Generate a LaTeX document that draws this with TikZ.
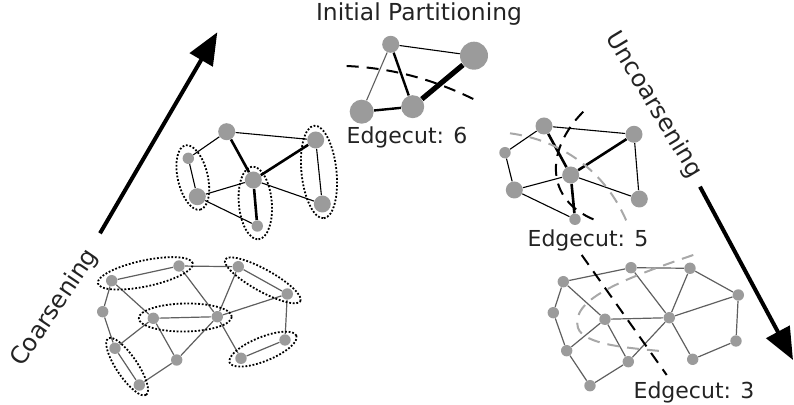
\documentclass[tikz,border=0pt]{standalone}
\usepackage{fontspec}
\setmainfont{DejaVu Sans}
\usetikzlibrary{arrows.meta,calc,shapes.geometric}
\definecolor{vgray}{RGB}{155,155,155}
\definecolor{cutgray}{RGB}{168,168,168}
\definecolor{edgegray}{RGB}{95,95,95}
\definecolor{txt}{RGB}{35,35,35}

\begin{document}
\begin{tikzpicture}[x=0.5pt,y=-0.5pt,>=Stealth,
		vx/.style={circle,fill=vgray,inner sep=0pt,minimum size=#1},
		vx/.default=5.7pt,
		ed/.style={draw=edgegray,line width=0.6pt},
		fine/.style={draw=black,line width=0.55pt},
		heavy/.style={draw=black,line width=1.3pt},
		grp/.style={ellipse,draw,dash pattern=on 0.9pt off 0.9pt,line width=0.9pt,inner sep=0pt},
		cut/.style={line width=1pt,dash pattern=on 6pt off 4pt},
		lbl/.style={text=txt,font=\fontsize{11}{13}\selectfont},
		big arrow/.style={line width=2pt,-{Triangle[length=16pt,width=13pt]}}]
		\useasboundingbox (0,0) rectangle (794,405);
		% finest graph (bottom left)
		\node[vx] (a1)  at (111.7,280.7) {};
		\node[vx] (a2)  at (179,266) {};
		\node[vx] (a3)  at (238.3,266.7) {};
		\node[vx] (a4)  at (287.3,294) {};
		\node[vx] (a5)  at (102.7,311.7) {};
		\node[vx] (a6)  at (153.3,318.3) {};
		\node[vx] (a7)  at (217.3,316.7) {};
		\node[vx] (a8)  at (285,340) {};
		\node[vx] (a9)  at (115,348.3) {};
		\node[vx] (a10) at (176.7,360) {};
		\node[vx] (a11) at (241,358.3) {};
		\node[vx] (a12) at (139.3,385) {};
		\draw[ed] (a1)--(a2) (a2)--(a3) (a3)--(a4) (a1)--(a5) (a1)--(a6) (a2)--(a7)
			(a3)--(a7) (a4)--(a7) (a4)--(a8) (a6)--(a7) (a5)--(a9) (a6)--(a9)
			(a6)--(a10) (a7)--(a10) (a7)--(a11) (a9)--(a12) (a10)--(a12) (a11)--(a8);
		% matchings
		\node[grp,minimum width=48.5pt,minimum height=13pt,rotate=12]  (m1) at ($(a1)!0.5!(a2)$) {};
		\node[grp,minimum width=43pt,minimum height=11pt,rotate=-29]   (m2) at ($(a3)!0.5!(a4)$) {};
		\node[grp,minimum width=46.5pt,minimum height=14pt,rotate=1]   (m3) at ($(a6)!0.5!(a7)$) {};
		\node[grp,minimum width=34pt,minimum height=10.5pt,rotate=-56] (m4) at ($(a9)!0.5!(a12)$) {};
		\node[grp,minimum width=36pt,minimum height=12pt,rotate=22]    (m5) at ($(a11)!0.5!(a8)$) {};
		% coarser graph (middle left)
		\node[vx=8.5pt] (b1) at (226.7,131.7) {};
		\node[vx=8.5pt] (b2) at (315.7,140) {};
		\node[vx]       (b3) at (188.3,158.3) {};
		\node[vx=8.5pt] (b4) at (253.3,180) {};
		\node[vx=8.5pt] (b5) at (197.3,196.7) {};
		\node[vx=8.5pt] (b6) at (322.3,204) {};
		\node[vx]       (b7) at (257.3,226) {};
		\draw[fine] (b1)--(b2) (b1)--(b3) (b2)--(b6) (b3)--(b5) (b5)--(b4) (b5)--(b7) (b4)--(b6);
		\draw[heavy] (b1)--(b4) (b2)--(b4) (b4)--(b7);
		\node[grp,minimum width=33pt,minimum height=15pt,rotate=-77]   (n1) at ($(b3)!0.5!(b5)$) {};
		\node[grp,minimum width=36.5pt,minimum height=16.5pt,rotate=-85] (n2) at ($(b4)!0.5!(b7)$) {};
		\node[grp,minimum width=46.5pt,minimum height=17.5pt,rotate=-84] (n3) at ($(b2)!0.5!(b6)$) {};
		% coarsest graph (top)
		\node[vx=8.5pt] (c1) at (390.7,44.3) {};
		\node[vx=14pt]  (c2) at (474,55.7) {};
		\node[vx=12pt]  (c3) at (361.7,111.7) {};
		\node[vx=11.5pt] (c4) at (412.7,106.7) {};
		\draw[fine] (c1)--(c2);
		\draw[ed,line width=0.55pt] (c1)--(c3);
		\draw[heavy,line width=1.2pt] (c1)--(c4) (c3)--(c4);
		\draw[heavy,line width=2.6pt] (c4)--(c2);
		\coordinate (p1) at (346.7,66);
		\coordinate (p2) at (473.3,99);
		\draw[cut] (p1) .. controls (390,68) and (430,78) .. (p2);
		% projected graph (middle right)
		\node[vx=8.5pt] (d1) at (544,126) {};
		\node[vx=8.5pt] (d2) at (634,134.3) {};
		\node[vx]       (d3) at (505,152.7) {};
		\node[vx=8.5pt] (d4) at (570.7,175) {};
		\node[vx=8.5pt] (d5) at (514.3,190) {};
		\node[vx=8.5pt] (d6) at (639.3,199) {};
		\node[vx]       (d7) at (575,219.3) {};
		\draw[fine] (d1)--(d2) (d1)--(d3) (d2)--(d6) (d3)--(d5) (d5)--(d4) (d5)--(d7) (d4)--(d6);
		\draw[heavy] (d1)--(d4) (d2)--(d4) (d4)--(d7);
		\coordinate (q1) at (583.3,111.7);
		\coordinate (q2) at (595,220);
		\coordinate (r1) at (510,133.3);
		\coordinate (r2) at (626.7,221.7);
		\draw[cut,cutgray] (r1) .. controls (560,140) and (605,170) .. (r2);
		\draw[cut] (q1) .. controls (545,150) and (545,200) .. (q2);
		% projected graph (bottom right)
		\node[vx] (e1)  at (563.3,281.7) {};
		\node[vx] (e2)  at (631,267.7) {};
		\node[vx] (e3)  at (690,268.3) {};
		\node[vx] (e4)  at (738.3,295) {};
		\node[vx] (e5)  at (553.3,312.7) {};
		\node[vx] (e6)  at (605,319.3) {};
		\node[vx] (e7)  at (669.3,317.7) {};
		\node[vx] (e8)  at (736,341) {};
		\node[vx] (e9)  at (566.7,350.7) {};
		\node[vx] (e10) at (628.3,361.7) {};
		\node[vx] (e11) at (692.7,359.3) {};
		\node[vx] (e12) at (590,385.7) {};
		\draw[ed] (e1)--(e2) (e2)--(e3) (e3)--(e4) (e1)--(e5) (e1)--(e6) (e2)--(e7)
			(e3)--(e7) (e4)--(e7) (e4)--(e8) (e6)--(e7) (e5)--(e9) (e6)--(e9)
			(e6)--(e10) (e7)--(e10) (e7)--(e11) (e9)--(e12) (e10)--(e12) (e11)--(e8);
		\coordinate (s1) at (693.3,255);
		\coordinate (s2) at (660,351);
		\draw[cut,cutgray] (s1) .. controls (620,280) and (570,300) .. (578,328)
			.. controls (584,345) and (630,348) .. (s2);
		\coordinate (t1) at (581.7,255);
		\coordinate (t2) at (666.7,375);
		\draw[cut] (t1)--(t2);
		% phase arrows
		\coordinate (up s) at (100,233.3);
		\coordinate (up e) at (217.3,32.3);
		\coordinate (dn s) at (700,186.7);
		\coordinate (dn e) at (793,360);
		\draw[big arrow] (up s)--(up e);
		\draw[big arrow] (dn s)--(dn e);
		% labels
		\node[lbl,font=\fontsize{11.7}{13}\selectfont] (title) at (419,14) {Initial Partitioning};
		\node[lbl] (cut6) at (407,137) {Edgecut: 6};
		\node[lbl] (cut5) at (588,240) {Edgecut: 5};
		\node[lbl] (cut3) at (694,392) {Edgecut: 3};
		\node[lbl,font=\fontsize{12}{14}\selectfont,rotate=56]  (coarse) at (55,308) {Coarsening};
		\node[lbl,font=\fontsize{12}{14}\selectfont,rotate=-59] (uncoarse) at (654,105) {Uncoarsening};
	\end{tikzpicture}
\end{document}
